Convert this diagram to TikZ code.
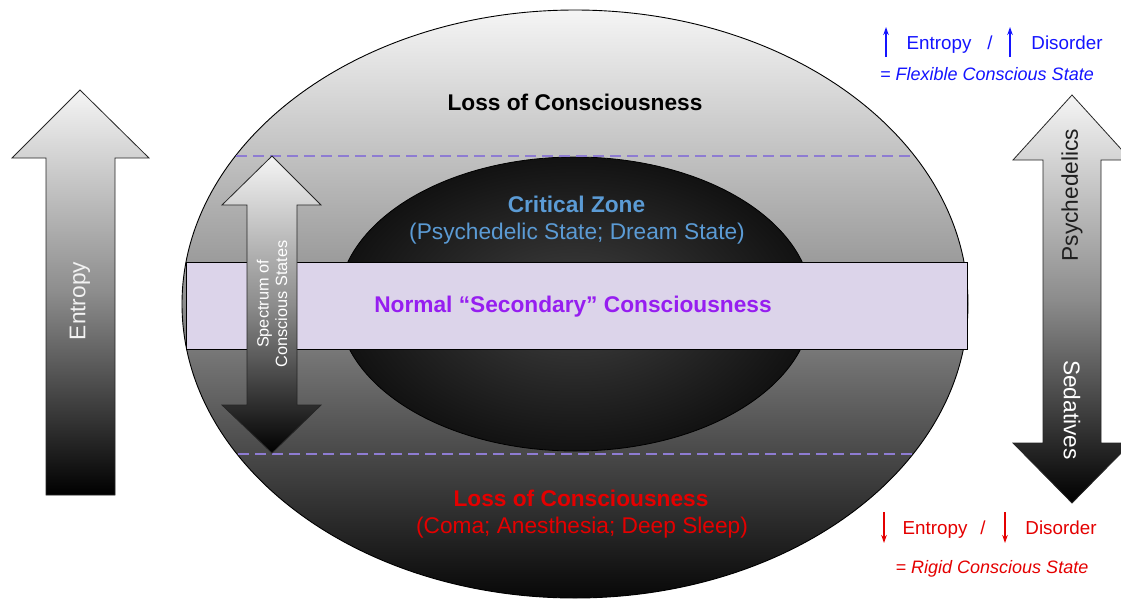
\documentclass[tikz,border=0pt]{standalone}
\usepackage{fontspec}
\setmainfont{Liberation Sans}
\usetikzlibrary{arrows.meta}
\definecolor{bandfill}{RGB}{220,212,234}
\definecolor{dashcol}{RGB}{142,124,210}
\definecolor{czblue}{RGB}{91,155,213}
\definecolor{normpurple}{RGB}{150,30,240}
\definecolor{topblue}{RGB}{20,20,255}
\definecolor{botred}{RGB}{228,0,0}
\tikzset{
  bigtxt/.style={font=\fontsize{22.7}{27}\selectfont},
  bigbold/.style={font=\fontsize{22.7}{27}\selectfont\bfseries},
  smalltxt/.style={font=\fontsize{18.8}{22}\selectfont},
  italtxt/.style={font=\fontsize{18}{22}\selectfont\itshape},
  arrowshape/.style={draw=black!85, line width=0.8pt, top color=black!4, bottom color=black, middle color=black!45},
  zoneline/.style={dashcol, line width=2.3pt, dash pattern=on 11pt off 6pt},
  smallarrow/.style={line width=1.5pt, -{Stealth[length=8pt,width=5.5pt]}},
}
\begin{document}
\begin{tikzpicture}[x=1pt,y=-1pt]
\useasboundingbox (0,0) rectangle (1121,600);
\begin{scope}
\clip (0,0) rectangle (1121,600);
% big ellipse
\path[draw=black, line width=0.9pt, top color=black!4, bottom color=black!97, middle color=black!45]
  (575,304) ellipse [x radius=393, y radius=294];
% inner ellipse
\path[draw=black, line width=0.8pt, inner color=black!75, outer color=black!93, shading=radial]
  (575,304) ellipse [x radius=237, y radius=147];
% dashed zone lines
\coordinate (dl1) at (236,156);
\coordinate (dr1) at (915,156);
\coordinate (dl2) at (238,454);
\coordinate (dr2) at (913,454);
\draw[zoneline] (dl1) -- (dr1);
\draw[zoneline] (dl2) -- (dr2);
% band
\path[draw=black, line width=0.9pt, fill=bandfill] (186,262) rectangle (967,349);
% left arrow
\path[arrowshape] (80,90) -- (149,158) -- (115,158) -- (115,495) -- (46,495) -- (46,158) -- (12,158) -- cycle;
% middle double arrow
\path[arrowshape] (272,156) -- (321,205) -- (297,205) -- (297,405) -- (321,405) -- (272,453) -- (222,405) -- (247,405) -- (247,205) -- (222,205) -- cycle;
% right double arrow
\path[arrowshape] (1072,95) -- (1131,160) -- (1101,160) -- (1101,443) -- (1131,443) -- (1072,503) -- (1013,443) -- (1043,443) -- (1043,160) -- (1013,160) -- cycle;
\end{scope}
% texts in the diagram
\node[bigbold, anchor=base, text=black] (loss1) at (575,110) {Loss of Consciousness};
\node[bigbold, anchor=base, text=czblue] (cz) at (576.5,212) {Critical Zone};
\node[bigtxt, anchor=base, text=czblue] (czsub) at (577,239) {(Psychedelic State; Dream State)};
\node[bigbold, anchor=base, text=normpurple] (normal) at (573,312) {Normal “Secondary” Consciousness};
\node[bigbold, anchor=base, text=botred] (loss2) at (581,506) {Loss of Consciousness};
\node[bigtxt, anchor=base, text=botred] (losssub) at (582,533) {(Coma; Anesthesia; Deep Sleep)};
% arrow labels
\node[bigtxt, rotate=90, text=black!5] (entropyL) at (80,301) {Entropy};
\node[font=\fontsize{16.3}{18.5}\selectfont, rotate=90, text=white, align=center] (spectrum) at (272,304) {Spectrum of\\Conscious States};
\node[bigtxt, rotate=90, text=black!88] (psy) at (1072,195) {Psychedelics};
\node[bigtxt, rotate=-90, text=white] (sed) at (1072,410) {Sedatives};
% top right legend
\coordinate (ua1) at (886,57);
\coordinate (ua1t) at (886,27);
\coordinate (ua2) at (1010,57);
\coordinate (ua2t) at (1010,27);
\draw[smallarrow, topblue] (ua1) -- (ua1t);
\draw[smallarrow, topblue] (ua2) -- (ua2t);
\node[smalltxt, anchor=base, text=topblue] (ent1) at (939,49) {Entropy};
\node[smalltxt, anchor=base, text=topblue] (sl1) at (990,49) {/};
\node[smalltxt, anchor=base, text=topblue] (dis1) at (1067,49) {Disorder};
\node[italtxt, anchor=base, text=topblue] (flex) at (987,80.5) {= Flexible Conscious State};
% bottom right legend
\coordinate (da1) at (884,512);
\coordinate (da1t) at (884,543);
\coordinate (da2) at (1005,512);
\coordinate (da2t) at (1005,543);
\draw[smallarrow, botred] (da1) -- (da1t);
\draw[smallarrow, botred] (da2) -- (da2t);
\node[smalltxt, anchor=base, text=botred] (ent2) at (935,534) {Entropy};
\node[smalltxt, anchor=base, text=botred] (sl2) at (983,534) {/};
\node[smalltxt, anchor=base, text=botred] (dis2) at (1061,534) {Disorder};
\node[italtxt, anchor=base, text=botred] (rigid) at (992,573) {= Rigid Conscious State};
\end{tikzpicture}
\end{document}
